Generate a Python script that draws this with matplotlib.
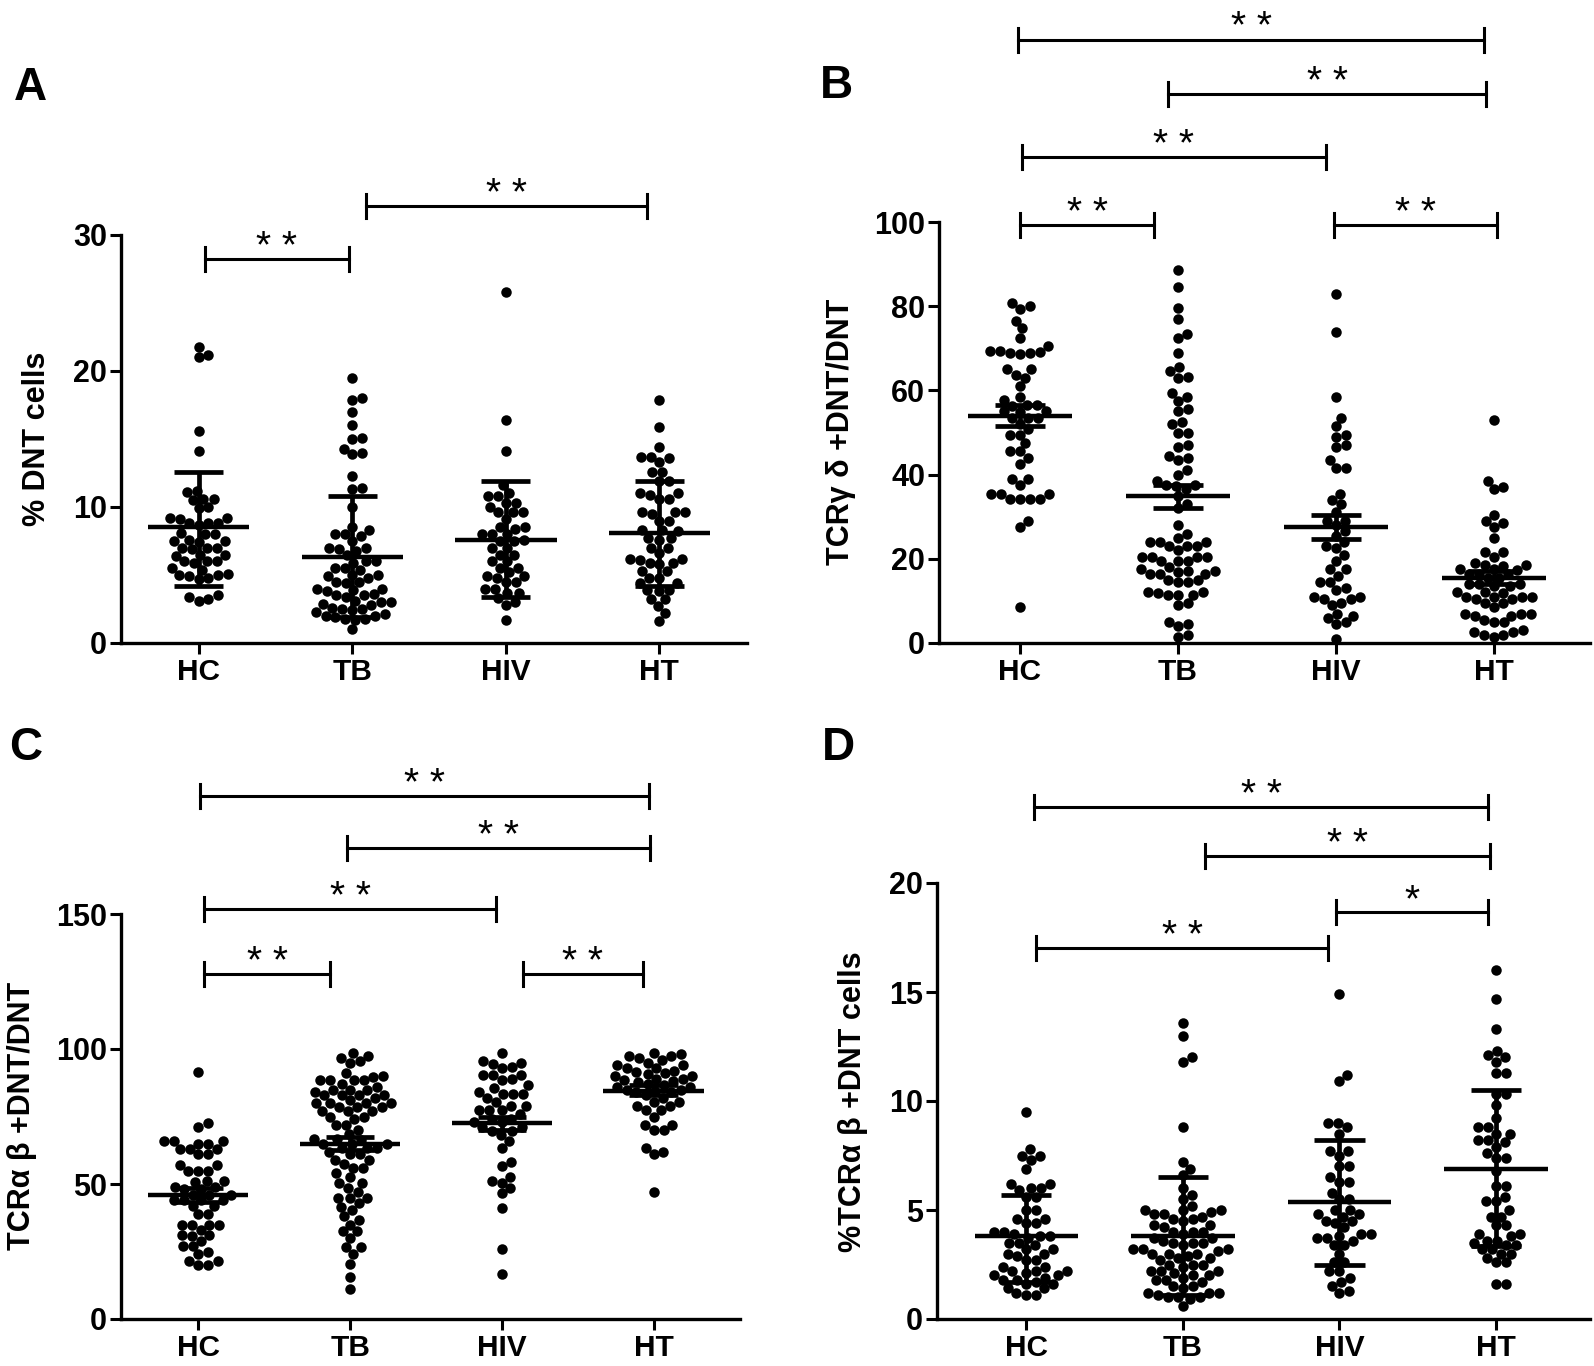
import matplotlib
matplotlib.use("Agg")
import matplotlib.pyplot as plt
import numpy as np

plt.rcParams["font.family"] = ["Liberation Sans", "DejaVu Sans"]
plt.rcParams["font.weight"] = "bold"

W, H = 1594, 1366
GROUPS = ["HC", "TB", "HIV", "HT"]

# ---- A: % DNT cells (line = centre, bars = spread) ----
a_hc = [21.8, 21.2, 21.0, 15.6, 14.1, 11.2, 11.1, 10.6, 10.5, 10.6, 10.0, 9.9,
        9.2, 9.1, 9.2, 8.8, 8.8, 8.7, 8.8, 8.0, 8.1, 8.0, 7.5, 7.5, 7.6, 7.4,
        7.0, 7.0, 6.9, 7.0, 6.5, 6.5, 6.4, 6.0, 6.0, 5.9, 6.0, 5.5, 5.4,
        5.0, 5.0, 5.1, 4.9, 4.8, 4.7, 3.5, 3.4, 3.2, 3.1]
a_tb = [19.5, 18.0, 17.9, 17.0, 16.0, 15.1, 15.0, 14.3, 14.0, 13.9, 12.3, 11.4,
        11.3, 10.0, 8.5, 8.3, 8.0, 8.0, 7.9, 7.5, 7.0, 7.0, 6.9, 6.8, 6.5,
        6.0, 6.0, 5.9, 5.5, 5.5, 5.4, 5.0, 5.0, 4.9, 4.8, 4.5, 4.5, 4.4,
        4.0, 4.0, 3.9, 3.8, 3.5, 3.5, 3.6, 3.4, 3.1, 3.0, 3.0, 2.9, 2.8, 2.6,
        2.5, 2.5, 2.4, 2.3, 2.1, 2.0, 2.0, 1.9, 1.8, 1.8, 1.7, 1.0]
a_hiv = [25.8, 16.4, 14.1, 11.6, 11.0, 10.8, 10.8, 10.3, 10.3, 10.0, 9.6, 9.6,
         9.6, 9.1, 8.5, 8.5, 8.4, 8.0, 8.0, 8.0, 7.5, 7.5, 7.6, 7.0, 7.0,
         6.5, 6.5, 6.0, 6.0, 5.5, 5.5, 5.2, 4.9, 4.9, 4.8, 4.5, 4.5, 4.0,
         4.0, 3.7, 3.7, 3.3, 3.0, 2.8, 1.7]
a_ht = [17.9, 15.9, 14.4, 13.7, 13.7, 13.6, 13.3, 12.6, 12.6, 11.9, 11.9, 11.0,
        11.0, 10.9, 10.6, 10.6, 9.6, 9.6, 9.5, 9.6, 9.0, 9.0, 8.3, 8.3, 8.2,
        7.7, 7.7, 7.6, 7.0, 7.0, 6.6, 6.2, 6.2, 6.1, 5.9, 5.9, 5.8, 5.3,
        5.3, 4.8, 4.8, 4.4, 4.4, 3.9, 3.9, 3.8, 3.2, 3.2, 2.7, 2.2, 1.6]
a_mid = [8.5, 6.3, 7.6, 8.1]
a_low = [4.2, 1.9, 3.4, 4.2]
a_high = [12.6, 10.8, 11.9, 11.9]

# ---- B: TCRgd+ DNT/DNT (mean +- SEM) ----
b_hc = [80.8, 80.0, 79.3, 76.5, 74.8, 72.5, 70.5, 69.3, 69.3, 69.2, 68.8, 68.8,
        68.7, 65.0, 65.0, 63.7, 63.0, 61.0, 58.5, 57.8, 56.5, 56.5, 56.4,
        55.0, 55.0, 54.9, 53.5, 53.5, 53.4, 52.0, 50.8, 49.5, 49.5, 47.5,
        45.5, 45.5, 44.0, 42.5, 39.0, 39.0, 37.5, 35.5, 35.5, 35.4, 34.3,
        34.3, 34.2, 34.3, 29.0, 27.5, 8.5]
b_tb = [88.5, 84.5, 79.5, 77.0, 73.5, 72.5, 69.0, 65.5, 64.5, 63.0, 63.2, 59.5,
        58.5, 57.5, 55.5, 55.0, 52.5, 52.0, 50.0, 50.0, 47.0, 46.5, 44.5, 44.0,
        43.5, 41.0, 40.0, 38.5, 37.5, 37.5, 37.4, 36.5, 35.0, 33.0, 32.0, 28.0,
        26.0, 25.0, 24.0, 24.0, 23.9, 23.0, 23.0, 23.1, 22.0, 20.5, 20.5, 20.4,
        20.5, 19.5, 19.5, 19.4, 18.0, 17.5, 17.0, 17.0, 16.9, 16.5, 16.5, 16.4,
        15.0, 15.0, 14.5, 14.5, 12.0, 12.0, 11.9, 11.5, 11.5, 11.4, 9.5, 9.0,
        5.0, 4.5, 4.0, 2.0, 1.5]
b_hiv = [83.0, 73.8, 58.5, 53.5, 51.5, 49.5, 49.0, 47.0, 46.5, 43.5, 41.5, 41.5,
         35.5, 34.0, 33.0, 31.0, 29.0, 29.0, 28.0, 26.5, 25.5, 24.0, 23.0, 22.5,
         21.0, 19.5, 17.5, 17.5, 16.0, 14.5, 14.5, 13.0, 12.5, 11.0, 11.0,
         10.5, 10.5, 9.5, 9.0, 7.0, 6.5, 6.0, 5.0, 4.5, 1.0]
b_ht = [53.0, 38.5, 37.0, 36.5, 30.5, 29.0, 28.5, 27.5, 25.0, 21.5, 21.5, 20.5,
        19.0, 18.5, 18.5, 18.4, 17.5, 17.5, 17.4, 16.5, 16.5, 16.4, 15.5, 15.5,
        14.0, 14.0, 13.9, 13.5, 13.5, 12.0, 12.0, 11.9, 11.0, 11.0, 10.9, 11.0,
        10.5, 10.5, 9.5, 9.5, 8.5, 7.0, 7.0, 6.9, 6.5, 6.5, 5.5, 5.0, 5.0,
        3.0, 2.5, 2.5, 2.0, 2.0, 1.5]
b_mid = [54.0, 34.8, 27.5, 15.5]
b_low = [51.5, 32.0, 24.7, 14.0]
b_high = [56.5, 37.5, 30.3, 17.0]

# ---- C: TCRab+ DNT/DNT (mean +- SEM) ----
c_hc = [91.5, 72.5, 71.0, 66.0, 66.0, 65.9, 65.0, 65.0, 63.0, 63.0, 62.9, 61.0,
        61.0, 57.0, 57.0, 55.0, 55.0, 54.9, 51.0, 51.0, 50.9, 49.0, 49.0, 48.0,
        48.0, 46.0, 46.0, 45.9, 44.0, 44.0, 43.9, 44.0, 42.0, 42.0, 39.0, 39.0,
        35.0, 35.0, 34.9, 35.0, 33.0, 31.0, 31.0, 30.9, 29.0, 27.0, 27.0, 25.0,
        24.0, 21.5, 21.5, 20.0, 20.0]
c_tb = [98.5, 97.5, 96.5, 95.5, 95.0, 91.0, 90.0, 89.5, 88.5, 88.5, 88.4, 88.5,
        87.0, 86.0, 85.0, 85.0, 84.9, 84.0, 83.0, 83.0, 82.9, 83.0, 82.0, 81.0,
        80.0, 80.0, 79.9, 80.0, 78.5, 78.5, 78.4, 77.0, 77.0, 76.9, 75.0, 75.0,
        74.0, 72.0, 72.0, 70.0, 68.5, 66.5, 66.5, 66.4, 65.0, 65.0, 64.9, 63.5,
        63.5, 63.4, 62.0, 61.0, 61.0, 59.0, 59.0, 57.5, 56.0, 56.0, 54.0, 52.5,
        50.5, 50.5, 48.5, 47.0, 45.0, 45.0, 44.9, 43.0, 41.5, 40.5, 38.0, 36.5,
        35.0, 32.5, 32.5, 30.0, 26.5, 26.5, 24.0, 20.5, 15.5, 11.0]
c_hiv = [98.5, 95.5, 95.0, 94.5, 93.5, 93.0, 90.5, 90.5, 90.4, 89.0, 88.5, 86.5,
         85.5, 84.0, 83.5, 83.5, 83.4, 82.0, 80.5, 79.0, 79.0, 77.5, 77.5, 77.4,
         76.0, 74.0, 74.0, 73.0, 73.0, 71.0, 71.0, 69.5, 69.5, 68.0, 66.0, 63.5,
         58.0, 56.5, 52.5, 51.0, 50.5, 48.5, 46.5, 41.0, 26.0, 16.5]
c_ht = [98.5, 98.0, 97.5, 97.4, 96.5, 96.0, 95.0, 94.0, 93.9, 93.0, 92.9, 92.0,
        91.5, 91.0, 90.9, 90.0, 89.9, 89.0, 88.9, 88.5, 88.0, 87.9, 87.0, 86.5,
        86.0, 85.9, 85.0, 84.9, 84.5, 84.0, 83.9, 83.0, 82.0, 80.5, 80.5, 79.0,
        79.0, 77.5, 77.5, 75.0, 72.0, 72.0, 70.0, 70.0, 63.5, 62.0, 61.0, 47.0]
c_mid = [46.0, 65.0, 72.5, 84.5]
c_low = [43.5, 62.5, 70.0, 83.0]
c_high = [48.5, 67.5, 75.0, 86.5]

# ---- D: % TCRab+ DNT cells (line = centre, bars = spread) ----
d_hc = [9.5, 7.8, 7.5, 7.5, 7.3, 6.9, 6.2, 6.2, 6.0, 6.0, 5.9, 5.6, 5.6, 5.0,
        5.0, 4.6, 4.6, 4.4, 4.4, 4.0, 4.0, 3.9, 3.8, 3.8, 3.7, 3.5, 3.5, 3.4,
        3.2, 3.2, 3.0, 3.0, 2.9, 2.7, 2.7, 2.4, 2.4, 2.2, 2.2, 2.2, 2.1, 2.0,
        2.0, 1.9, 1.8, 1.8, 1.7, 1.6, 1.6, 1.4, 1.4, 1.2, 1.1, 1.1]
d_tb = [13.6, 13.0, 12.0, 11.8, 8.8, 7.2, 6.9, 6.6, 6.0, 5.7, 5.5, 5.2, 5.0, 5.0,
        5.0, 4.9, 4.8, 4.8, 4.7, 4.6, 4.6, 4.5, 4.3, 4.3, 4.2, 4.0, 4.0, 4.0,
        3.9, 3.7, 3.7, 3.6, 3.5, 3.5, 3.5, 3.4, 3.2, 3.2, 3.2, 3.1, 3.0, 3.0,
        3.0, 2.9, 2.8, 2.8, 2.7, 2.5, 2.5, 2.5, 2.4, 2.2, 2.2, 2.2, 2.1, 2.0,
        2.0, 1.9, 1.8, 1.8, 1.7, 1.5, 1.5, 1.4, 1.2, 1.2, 1.2, 1.1, 1.0, 1.0,
        1.0, 0.9, 0.6]
d_hiv = [14.9, 11.2, 10.9, 9.0, 9.0, 8.8, 8.5, 7.7, 7.7, 7.5, 7.0, 7.0, 6.5, 6.3,
         6.3, 5.8, 5.5, 5.5, 5.0, 5.0, 4.8, 4.8, 4.7, 4.5, 4.5, 4.4, 4.2, 3.9,
         3.9, 3.8, 3.7, 3.7, 3.6, 3.4, 3.4, 3.0, 2.6, 2.6, 2.2, 2.2, 1.9, 1.7,
         1.5, 1.3, 1.2]
d_ht = [16.0, 14.7, 13.3, 12.3, 12.1, 12.0, 11.8, 11.3, 11.3, 10.3, 10.3, 9.8,
        9.2, 8.8, 8.8, 8.5, 8.5, 8.2, 8.2, 8.1, 7.9, 7.6, 7.4, 7.4, 6.8, 6.1,
        6.1, 5.6, 5.4, 5.4, 5.0, 4.7, 4.7, 4.3, 4.3, 3.9, 3.9, 3.8, 3.6, 3.6,
        3.5, 3.4, 3.4, 3.2, 3.2, 3.0, 3.0, 2.8, 2.6, 2.6, 1.6, 1.6]
d_mid = [3.8, 3.8, 5.35, 6.9]
d_low = [1.7, 1.1, 2.5, 3.35]
d_high = [5.7, 6.5, 8.2, 10.5]

PANELS = [
    dict(letter="A", ylabel="% DNT cells", groups=[a_hc, a_tb, a_hiv, a_ht],
         mid=a_mid, low=a_low, high=a_high, ymax=30, yticks=[0, 10, 20, 30],
         box=(121, 643, 747, 235), xlim=(-0.505, 3.57),
         brackets=[(0.04, 0.98, 28.2, "* *"), (1.09, 2.92, 32.1, "* *")],
         letter_xy=(30, 88), ylabel_xy=(37, 439)),
    dict(letter="B", ylabel="TCRγ δ +DNT/DNT", groups=[b_hc, b_tb, b_hiv, b_ht],
         mid=b_mid, low=b_low, high=b_high, ymax=100, yticks=[0, 20, 40, 60, 80, 100],
         box=(939, 643, 1590, 222), xlim=(-0.513, 3.61),
         brackets=[(-0.01, 2.94, 143.3, "* *"), (0.94, 2.95, 130.3, "* *"),
                   (0.01, 1.94, 115.4, "* *"), (0.0, 0.85, 99.3, "* *"),
                   (1.99, 3.02, 99.3, "* *")],
         letter_xy=(836, 86), ylabel_xy=(841, 432)),
    dict(letter="C", ylabel="TCRα β +DNT/DNT", groups=[c_hc, c_tb, c_hiv, c_ht],
         mid=c_mid, low=c_low, high=c_high, ymax=150, yticks=[0, 50, 100, 150],
         box=(121, 1319, 740, 914), xlim=(-0.51, 3.57),
         brackets=[(0.01, 2.97, 193.7, "* *"), (0.98, 2.98, 174.4, "* *"),
                   (0.04, 1.96, 151.7, "* *"), (0.04, 0.87, 127.8, "* *"),
                   (2.14, 2.93, 127.8, "* *")],
         letter_xy=(26, 748), ylabel_xy=(22, 1116)),
    dict(letter="D", ylabel="%TCRα β +DNT cells", groups=[d_hc, d_tb, d_hiv, d_ht],
         mid=d_mid, low=d_low, high=d_high, ymax=20, yticks=[0, 5, 10, 15, 20],
         box=(937, 1319, 1590, 883), xlim=(-0.57, 3.6),
         brackets=[(0.05, 2.95, 23.47, "* *"), (1.14, 2.96, 21.23, "* *"),
                   (1.98, 2.95, 18.66, "*"), (0.06, 1.93, 17.01, "* *")],
         letter_xy=(838, 748), ylabel_xy=(853, 1102)),
]

DOT_PX = 10.0


def swarm_x(ax, xc, vals):
    # simple beeswarm in pixel space: nearest free slot to the centre line
    vals = np.asarray(vals, float)
    ypx = ax.transData.transform(np.column_stack([np.full(len(vals), xc), vals]))[:, 1]
    xoff = np.zeros(len(vals))
    placed = []
    for i in np.argsort(ypx, kind="stable"):
        y = ypx[i]
        near = [(px, py) for px, py in placed if abs(py - y) < DOT_PX]
        cands = [0.0]
        for px, py in near:
            dx = np.sqrt(DOT_PX ** 2 - (py - y) ** 2)
            cands += [px + dx, px - dx]
        cands.sort(key=abs)
        for c in cands:
            if all((c - px) ** 2 + (y - py) ** 2 >= DOT_PX ** 2 - 1e-6 for px, py in near):
                break
        xoff[i] = c
        placed.append((c, y))
    unit = ax.transData.transform([(1, 0)])[0, 0] - ax.transData.transform([(0, 0)])[0, 0]
    return xc + xoff / unit


fig = plt.figure(figsize=(W / 100, H / 100), dpi=100)

for p in PANELS:
    x0, y0, x1, y1 = p["box"]
    ax = fig.add_axes([x0 / W, (H - y0) / H, (x1 - x0) / W, (y0 - y1) / H])
    ax.set_xlim(*p["xlim"])
    ax.set_ylim(0, p["ymax"])
    for s in ("top", "right"):
        ax.spines[s].set_visible(False)
    for s in ("left", "bottom"):
        ax.spines[s].set_linewidth(2.4)
    ax.set_xticks(range(4))
    ax.set_xticklabels(GROUPS, fontsize=21.5, fontweight="bold")
    ax.set_yticks(p["yticks"])
    ax.set_yticklabels([str(t) for t in p["yticks"]], fontsize=22, fontweight="bold")
    ax.tick_params(direction="out", length=8, width=2.2, pad=2)
    ax.tick_params(axis="x", pad=3)

    for i, vals in enumerate(p["groups"]):
        ax.scatter(swarm_x(ax, i, vals), vals, s=57, c="black", linewidths=0,
                   zorder=3, clip_on=False)
        ax.hlines(p["mid"][i], i - 0.33, i + 0.33, colors="black", lw=3.2, zorder=4)
        ax.vlines(i, p["low"][i], p["high"][i], colors="black", lw=3.4, zorder=4)
        ax.hlines([p["low"][i], p["high"][i]], i - 0.16, i + 0.16, colors="black",
                  lw=3.4, zorder=4)

    # significance brackets
    cap = 12 * p["ymax"] / (y0 - y1)
    for bx1, bx2, by, txt in p["brackets"]:
        ax.plot([bx1, bx2], [by, by], color="black", lw=2.2, clip_on=False)
        for bx in (bx1, bx2):
            ax.plot([bx, bx], [by - cap, by + cap], color="black", lw=2.2, clip_on=False)
        ax.annotate(txt, xy=((bx1 + bx2) / 2, by), xytext=(0, 1),
                    textcoords="offset points", ha="center", va="baseline",
                    fontsize=28, fontweight="normal", annotation_clip=False)

    fig.text(p["letter_xy"][0] / W, 1 - p["letter_xy"][1] / H, p["letter"],
             fontsize=33, fontweight="bold", ha="center", va="center")
    fig.text(p["ylabel_xy"][0] / W, 1 - p["ylabel_xy"][1] / H, p["ylabel"],
             fontsize=22, fontweight="bold", rotation=90, ha="center", va="center")

fig.savefig("out.png", dpi=100)
